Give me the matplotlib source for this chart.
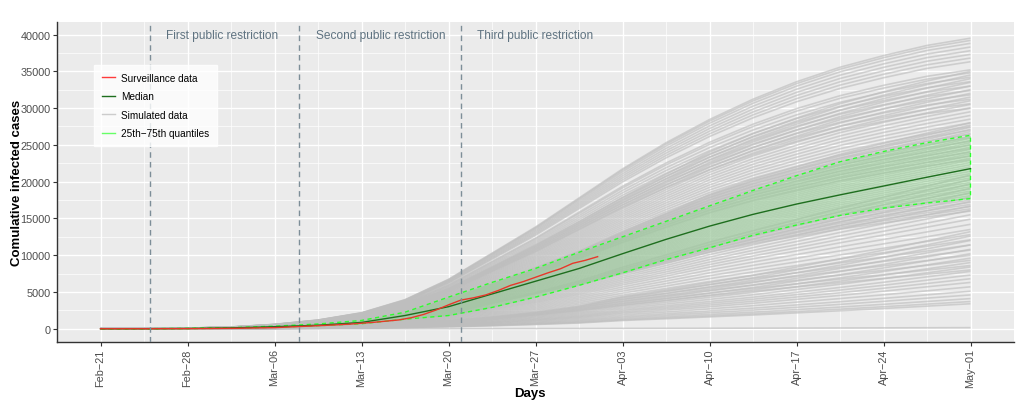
import matplotlib
matplotlib.use("Agg")
import matplotlib.pyplot as plt
import matplotlib.dates as mdates
from matplotlib.lines import Line2D
import numpy as np

plt.rcParams["font.family"] = ["Liberation Sans", "DejaVu Sans"]

START = "2020-02-21"
# Days since Feb-21 at which the model curves are given
DAYS = [0, 3.5, 7, 10.5, 14, 17.5, 21, 24.5, 28, 31.5, 35, 38.5, 42, 45.5, 49,
        52.5, 56, 59.5, 63, 66.5, 70]

MEDIAN = [0, 8, 40, 120, 280, 480, 860, 1800, 3000, 4730, 6460, 8190, 10200, 12150,
          13950, 15550, 16950, 18200, 19400, 20600, 21770]
Q75 = [0, 10, 50, 150, 350, 650, 1130, 2250, 4300, 6300, 8200, 10400, 12500, 14600,
       16700, 18800, 20800, 22700, 24100, 25300, 26300]
Q25 = [0, 3, 20, 70, 200, 420, 680, 1300, 1800, 2900, 4300, 5900, 7600, 9400, 11000,
       12700, 14100, 15400, 16400, 17100, 17690]

# Surveillance data
SURV_DATES = ["2020-02-21", "2020-02-25", "2020-02-29", "2020-03-03", "2020-03-06",
              "2020-03-08", "2020-03-10", "2020-03-12", "2020-03-14", "2020-03-16",
              "2020-03-17", "2020-03-18", "2020-03-19", "2020-03-20", "2020-03-21",
              "2020-03-22", "2020-03-23", "2020-03-24", "2020-03-25", "2020-03-26",
              "2020-03-27", "2020-03-28", "2020-03-29", "2020-03-30", "2020-03-31",
              "2020-04-01"]
SURV = [0, 2, 20, 60, 150, 300, 450, 620, 880, 1200, 1500, 1950, 2550, 3250, 3900,
        4200, 4600, 5200, 5900, 6400, 7000, 7600, 8150, 8900, 9300, 9800]

# Growth profiles of the simulated runs (share of their value on May-01)
PROFILE_A = [0, .0005, .002, .006, .015, .03, .055, .10, .17, .26, .35, .45, .55, .64,
             .72, .79, .85, .90, .94, .975, 1]
PROFILE_AB = [0, .0005, .002, .006, .014, .026, .047, .09, .155, .24, .325, .415, .51,
              .60, .686, .758, .818, .874, .92, .962, 1]
PROFILE_B = [0, .0004, .0018, .0055, .013, .022, .040, .083, .138, .217, .297, .376,
             .47, .56, .652, .726, .785, .847, .90, .95, 1]
PROFILE_BC = [0, .0004, .002, .005, .011, .02, .035, .066, .11, .17, .235, .31, .40,
              .48, .563, .638, .71, .784, .855, .927, 1]
PROFILE_C = [0, .0005, .002, .005, .01, .018, .03, .05, .08, .12, .17, .23, .33, .40,
             .475, .55, .635, .72, .81, .905, 1]

# Simulated runs: cumulative cases on May-01
SIM_C = [150, 3400, 3700, 4100, 4600, 5100, 5700, 6300, 6800, 7300, 7800, 8400, 9000,
         9600, 10200, 10800, 11400, 12000, 12600, 13200]
SIM_BC = [8000, 8600, 9300, 10000, 10700, 11400, 12100, 12800, 13500, 14200, 14900,
          15500, 16100, 16700, 17300, 17900, 18500, 19100, 19700, 20300, 20900]
SIM_B = [16000, 16300, 16600, 16900, 17200, 17500, 17800, 18100, 18400, 18700, 19000,
         19300, 19600, 19900, 20200, 20500, 20800, 21100, 21400, 21700, 22000, 22300,
         22600, 22900, 23200, 23500, 23800, 24100, 24400, 24700, 25000, 25300, 25600,
         25900, 26200, 26500, 26800, 27100, 27400, 27700, 28000]
SIM_AB = [23000, 23500, 24000, 24500, 25000, 25500, 26000, 26500, 27000, 27500, 28000,
          28500, 29000, 29500, 30000, 30500, 31000, 31500, 32000, 32500, 33000, 33500,
          34000, 34500, 35000]
SIM_A = [30000, 30600, 31200, 31800, 32400, 33000, 33600, 34200, 34800, 35200, 36300,
         36800, 37300, 37800, 38300, 38800, 39200, 39500]

TICK_DATES = ["2020-02-21", "2020-02-28", "2020-03-06", "2020-03-13", "2020-03-20",
              "2020-03-27", "2020-04-03", "2020-04-10", "2020-04-17", "2020-04-24",
              "2020-05-01"]

RESTRICTIONS = ["2020-02-25", "2020-03-08", "2020-03-21"]
RESTRICTION_LABELS = ["First public restriction", "Second public restriction",
                      "Third public restriction"]


def to_num(dates):
    return mdates.date2num(np.array(dates, dtype="datetime64[D]"))


x = to_num([START])[0] + np.array(DAYS)

fig = plt.figure(figsize=(10.24, 4.10), dpi=100)
ax = fig.add_axes([57 / 1024, 67 / 410, 957 / 1024, 320 / 410])
ax.set_facecolor("#ebebeb")

# Simulated runs
for profile, finals in [(PROFILE_C, SIM_C), (PROFILE_BC, SIM_BC), (PROFILE_B, SIM_B),
                        (PROFILE_AB, SIM_AB), (PROFILE_A, SIM_A)]:
    prof = np.array(profile)
    for f in finals:
        ax.plot(x, prof * f, color="#bebebe", alpha=0.65, lw=1.2, zorder=2,
                solid_capstyle="butt")

# Quantile ribbon
ax.fill_between(x, Q25, Q75, color="#00ff00", alpha=0.12, lw=0, zorder=3)
ax.plot(np.concatenate([x, x[::-1]]), np.concatenate([Q75, Q25[::-1]]),
        color="#2cff2c", lw=1.0, ls=(0, (3, 2.5)), zorder=4)

ax.plot(x, MEDIAN, color="#1e6e1e", lw=1.0, zorder=5)
ax.plot(to_num(SURV_DATES), SURV, color="#e8372a", lw=1.0, zorder=6)

# Restriction lines and labels
for d, lab in zip(RESTRICTIONS, RESTRICTION_LABELS):
    xd = to_num([d])[0]
    ax.axvline(xd, color="#7d8e98", lw=1.0, ls=(0, (4, 3)), zorder=7)
    ax.text(xd + 1.3, 40000, lab, color="#5f7381", fontsize=8.6, va="center",
            ha="left", zorder=8)

# Axes
ticks = to_num(TICK_DATES)
ax.set_xlim(ticks[0] - 3.5, ticks[-1] + 3.5)
ax.set_ylim(-1800, 41700)
ax.set_xticks(ticks)
ax.set_xticks(ticks[:-1] + 3.5, minor=True)
ax.set_xticklabels([np.datetime64(d, "D").astype(object).strftime("%b\u2212%d")
                    for d in TICK_DATES], rotation=90)
ax.set_yticks(np.arange(0, 40001, 5000))
ax.set_yticks(np.arange(2500, 40000, 5000), minor=True)

ax.grid(which="major", color="white", lw=1.0, zorder=0)
ax.grid(which="minor", color="white", lw=0.5, zorder=0)
ax.set_axisbelow(True)

for s in ["top", "right"]:
    ax.spines[s].set_visible(False)
for s in ["left", "bottom"]:
    ax.spines[s].set_color("#333333")
    ax.spines[s].set_linewidth(1.0)

ax.tick_params(which="major", length=3, color="#333333", labelcolor="#4d4d4d",
               labelsize=7.8, pad=1.5)
ax.tick_params(which="minor", length=0)

ax.set_xlabel("Days", fontsize=9.5, fontweight="bold")
ax.set_ylabel("Comulative infected cases", fontsize=9.5, fontweight="bold")
ax.xaxis.set_label_coords(0.494, -0.14)
ax.yaxis.set_label_coords(-0.036, 0.5)

handles = [
    Line2D([], [], color="#ff3b3b", lw=1.0),
    Line2D([], [], color="#1e6e1e", lw=1.0),
    Line2D([], [], color="#cccccc", lw=1.0),
    Line2D([], [], color="#66ff66", lw=1.0),
]
labels = ["Surveillance data", "Median", "Simulated data", "25th\u221275th quantiles"]
leg = ax.legend(handles, labels, loc="upper left", bbox_to_anchor=(0.039, 0.866),
                frameon=True, fancybox=False, fontsize=7.2, handlelength=1.3,
                handletextpad=0.6, labelspacing=0.85, borderpad=0.8,
                borderaxespad=0)
leg.get_frame().set_facecolor("white")
leg.get_frame().set_edgecolor("white")
leg.set_zorder(10)

fig.savefig("out.png", dpi=100)
